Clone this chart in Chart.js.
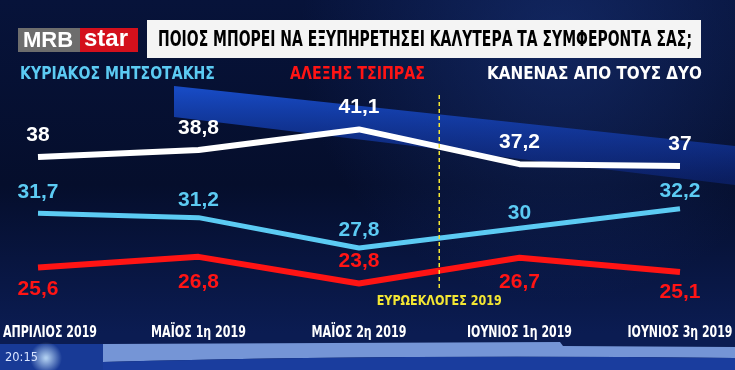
<!DOCTYPE html>
<html>
<head>
<meta charset="utf-8">
<script src="https://cdn.jsdelivr.net/npm/chart.js@4"></script>
<style>
  html, body { margin: 0; padding: 0; background: #061030; }
  #wrap { width: 735px; height: 370px; position: relative; }
</style>
</head>
<body>
<div id="wrap"><canvas id="poll"></canvas></div>
<script>
// Poll data (MRB for Star)
const categories = ["ΑΠΡΙΛΙΟΣ 2019", "ΜΑΪΟΣ 1η 2019", "ΜΑΪΟΣ 2η 2019", "ΙΟΥΝΙΟΣ 1η 2019", "ΙΟΥΝΙΟΣ 3η 2019"];
const mitsotakis = [31.7, 31.2, 27.8, 30, 32.2];
const tsipras = [25.6, 26.8, 23.8, 26.7, 25.1];
const neither = [38, 38.8, 41.1, 37.2, 37];
const seriesNames = ["ΚΥΡΙΑΚΟΣ ΜΗΤΣΟΤΑΚΗΣ", "ΑΛΕΞΗΣ ΤΣΙΠΡΑΣ", "ΚΑΝΕΝΑΣ ΑΠΟ ΤΟΥΣ ΔΥΟ"];
const chartTitle = "ΠΟΙΟΣ ΜΠΟΡΕΙ ΝΑ ΕΞΥΠΗΡΕΤΗΣΕΙ ΚΑΛΥΤΕΡΑ ΤΑ ΣΥΜΦΕΡΟΝΤΑ ΣΑΣ;";
const markerLabel = "ΕΥΡΩΕΚΛΟΓΕΣ 2019";
const clock = "20:15";

const CYAN = "#5ccbf3", RED = "#ff1414", WHITE = "#ffffff", YELLOW = "#f3e633";
const FONT = "'Liberation Sans', Arial, sans-serif";
const NARROW = "'DejaVu Sans', sans-serif"; // squeezed below to look condensed

// text squeezed to a given width (the TV font is condensed)
function fitText(ctx, text, x, y, width, font, color, align) {
  ctx.save();
  ctx.font = font;
  ctx.fillStyle = color;
  ctx.textBaseline = "middle";
  const w = ctx.measureText(text).width;
  const s = Math.min(1, width / w);
  let left = x;
  if (align === "center") left = x - (w * s) / 2;
  ctx.translate(left, y);
  ctx.scale(s, 1);
  ctx.textAlign = "left";
  ctx.fillText(text, 0, 0);
  ctx.restore();
}

const backdrop = {
  id: "backdrop",
  beforeDraw(chart) {
    const ctx = chart.ctx, W = chart.width, H = chart.height;
    ctx.save();
    let g = ctx.createLinearGradient(0, 0, 0, H);
    g.addColorStop(0, "#07133a");
    g.addColorStop(0.5, "#050e2c");
    g.addColorStop(0.9, "#0b1c52");
    g.addColorStop(1, "#0b1c52");
    ctx.fillStyle = g;
    ctx.fillRect(0, 0, W, H);

    // soft lighter patch upper right
    let r = ctx.createRadialGradient(560, 40, 10, 560, 40, 260);
    r.addColorStop(0, "rgba(30,60,140,0.45)");
    r.addColorStop(1, "rgba(30,60,140,0)");
    ctx.fillStyle = r;
    ctx.fillRect(0, 0, W, H);

    // blue ribbon behind the white line
    let b = ctx.createLinearGradient(0, 90, 0, 180);
    b.addColorStop(0, "rgba(25,80,210,0.9)");
    b.addColorStop(1, "rgba(15,45,150,0.45)");
    ctx.fillStyle = b;
    ctx.beginPath();
    ctx.moveTo(174, 86);
    ctx.lineTo(735, 146);
    ctx.lineTo(735, 185);
    ctx.lineTo(174, 117);
    ctx.closePath();
    ctx.fill();

    // bottom band
    ctx.fillStyle = "#7595d6";
    ctx.beginPath();
    ctx.moveTo(103, 344);
    ctx.lineTo(560, 342);
    ctx.lineTo(563, 346);
    ctx.lineTo(735, 347);
    ctx.lineTo(735, 358);
    ctx.quadraticCurveTo(400, 354, 103, 362);
    ctx.closePath();
    ctx.fill();
    ctx.fillStyle = "#1a3d9e";
    ctx.beginPath();
    ctx.moveTo(103, 362);
    ctx.quadraticCurveTo(400, 354, 735, 358);
    ctx.lineTo(735, 370);
    ctx.lineTo(103, 370);
    ctx.closePath();
    ctx.fill();
    ctx.fillStyle = "#183a96";
    ctx.fillRect(0, 344, 103, 26);
    let glow = ctx.createRadialGradient(46, 358, 1, 46, 358, 16);
    glow.addColorStop(0, "rgba(200,230,255,0.85)");
    glow.addColorStop(1, "rgba(200,230,255,0)");
    ctx.fillStyle = glow;
    ctx.fillRect(20, 336, 50, 34);
    fitText(ctx, clock, 5, 358, 33, "12px " + NARROW, "#d8e4ff", "left");

    // logo and title box
    ctx.fillStyle = "#6d6d6d";
    ctx.fillRect(18, 28, 62, 24);
    ctx.fillStyle = "#d4101c";
    ctx.fillRect(80, 28, 58, 24);
    fitText(ctx, "MRB", 23, 40.5, 52, "bold 22px " + FONT, "#ffffff", "left");
    fitText(ctx, "star", 84, 39.5, 50, "bold 24px " + FONT, "#ffffff", "left");
    ctx.fillStyle = "#f4f4f4";
    ctx.fillRect(147, 20, 554, 38);
    fitText(ctx, chartTitle, 158, 40, 534, "bold 22px " + NARROW, "#000000", "left");

    // legend
    fitText(ctx, seriesNames[0], 20, 75, 195, "bold 17px " + NARROW, CYAN, "left");
    fitText(ctx, seriesNames[1], 290, 75, 135, "bold 17px " + NARROW, RED, "left");
    fitText(ctx, seriesNames[2], 487, 75, 215, "bold 17px " + NARROW, WHITE, "left");
    ctx.restore();
  },
  afterDatasetsDraw(chart) {
    const ctx = chart.ctx, xs = chart.scales.x;
    // European elections marker between 2nd May and 1st June
    const xm = (xs.getPixelForValue(2) + xs.getPixelForValue(3)) / 2;
    ctx.save();
    ctx.strokeStyle = YELLOW;
    ctx.lineWidth = 1.5;
    ctx.setLineDash([4, 3]);
    ctx.beginPath();
    ctx.moveTo(xm, 95);
    ctx.lineTo(xm, 290);
    ctx.stroke();
    ctx.restore();
    fitText(ctx, markerLabel, xm, 301, 125, "bold 14px " + NARROW, YELLOW, "center");

    // value labels
    chart.data.datasets.forEach((ds, i) => {
      const meta = chart.getDatasetMeta(i);
      meta.data.forEach((pt, j) => {
        const txt = String(ds.data[j]).replace(".", ",");
        ctx.save();
        ctx.font = "bold 21px " + FONT;
        ctx.fillStyle = ds.borderColor;
        ctx.textAlign = "center";
        ctx.textBaseline = "middle";
        ctx.fillText(txt, pt.x, pt.y + ds.labelOffset[j]);
        ctx.restore();
      });
    });

    // category labels along the bottom
    const widths = [94, 95, 95, 105, 105];
    categories.forEach((c, i) => {
      const w = widths[i];
      let x = xs.getPixelForValue(i);
      x = Math.min(Math.max(x, w / 2 + 3), chart.width - w / 2 - 2);
      fitText(ctx, c, x, 333, w, "bold 16px " + NARROW, WHITE, "center");
    });
  }
};

new Chart(document.getElementById("poll"), {
  type: "line",
  plugins: [backdrop],
  data: {
    labels: categories,
    datasets: [
      { label: seriesNames[2], data: neither, borderColor: WHITE, borderWidth: 6, labelOffset: [-22, -22, -22, -22, -22] },
      { label: seriesNames[0], data: mitsotakis, borderColor: CYAN, borderWidth: 5, labelOffset: [-21, -17, -18, -15, -18] },
      { label: seriesNames[1], data: tsipras, borderColor: RED, borderWidth: 6, labelOffset: [22, 25, -22, 24, 20] },
    ],
  },
  options: {
    responsive: true,
    maintainAspectRatio: false,
    animation: false,
    layout: { padding: { left: 38, right: 55, top: 100, bottom: 49 } },
    elements: {
      line: { tension: 0, borderJoinStyle: "round", borderCapStyle: "butt" },
      point: { radius: 0, hoverRadius: 0 },
    },
    scales: {
      x: { display: false },
      y: { display: false, min: 19.6, max: 44.4 },
    },
    plugins: {
      legend: { display: false },
      tooltip: { enabled: false },
    },
  },
});
</script>
</body>
</html>
